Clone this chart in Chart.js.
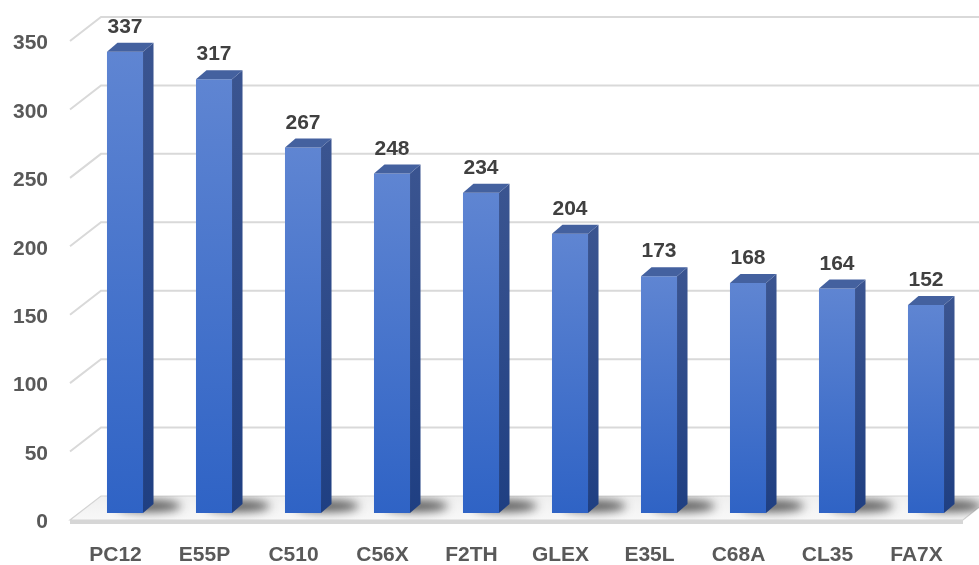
<!DOCTYPE html>
<html>
<head>
<meta charset="utf-8">
<script src="https://cdn.jsdelivr.net/npm/chart.js@4.4.1/dist/chart.umd.min.js"></script>
<style>
  html, body { margin: 0; padding: 0; background: #fff; }
  #wrap { width: 979px; height: 565px; position: relative; }
</style>
</head>
<body>
<div id="wrap"><canvas id="c"></canvas></div>
<script>
const categories = ['PC12', 'E55P', 'C510', 'C56X', 'F2TH', 'GLEX', 'E35L', 'C68A', 'CL35', 'FA7X'];
const values = [337, 317, 267, 248, 234, 204, 173, 168, 164, 152];
const yTicks = [0, 50, 100, 150, 200, 250, 300, 350];

const DX = 10.5, DY = -9;      // bar depth
const WALL_DY = -17, WALL_DX = 20.5, FRONT_DY = 7, FRONT_DX = -10.5;

// front face gradient, per bar
function frontFill(ctx) {
  const chart = ctx.chart;
  const ys = chart.scales.y;
  if (!ys || ctx.parsed == null) return '#3f6fcb';
  const top = ys.getPixelForValue(ctx.parsed.y);
  const bot = ys.getPixelForValue(0);
  if (!isFinite(top) || !isFinite(bot)) return '#3f6fcb';
  const g = chart.ctx.createLinearGradient(0, top, 0, bot);
  g.addColorStop(0, '#5f85d2');
  g.addColorStop(1, '#2f63c5');
  return g;
}

const depth3d = {
  id: 'depth3d',
  beforeDatasetsDraw(chart) {
    const { ctx, scales: { x, y } } = chart;
    const left = x.left;
    ctx.save();
    // back wall grid + left diagonals
    ctx.strokeStyle = '#d9d9d9';
    ctx.lineWidth = 2;
    yTicks.forEach(v => {
      if (v === 0) return;
      const yf = y.getPixelForValue(v);
      ctx.beginPath();
      ctx.moveTo(left + FRONT_DX, yf + FRONT_DY);
      ctx.lineTo(left + WALL_DX, yf + WALL_DY);
      ctx.lineTo(chart.width, yf + WALL_DY);
      ctx.stroke();
    });

    // floor
    const y0 = y.getPixelForValue(0);
    const bx0 = left + WALL_DX, by = y0 + WALL_DY;
    const fx0 = left + FRONT_DX, fy = y0 + FRONT_DY;
    const fx1 = x.right - 7.5, bx1 = fx1 + (bx0 - fx0);
    const floor = new Path2D();
    floor.moveTo(bx0, by);
    floor.lineTo(bx1, by);
    floor.lineTo(fx1, fy);
    floor.lineTo(fx0, fy);
    floor.closePath();
    const fg = ctx.createLinearGradient(0, by, 0, fy);
    fg.addColorStop(0, '#efefef');
    fg.addColorStop(1, '#f8f8f8');
    ctx.fillStyle = fg;
    ctx.fill(floor);
    ctx.strokeStyle = '#d4d4d4';
    ctx.lineWidth = 1.2;
    ctx.stroke(floor);
    ctx.fillStyle = '#d6d6d6';
    ctx.fillRect(fx0, fy, fx1 - fx0, 4);

    // shadows under the bars
    ctx.save();
    ctx.clip(floor);
    ctx.filter = 'blur(5px)';
    ctx.fillStyle = 'rgba(30,30,30,0.7)';
    chart.getDatasetMeta(0).data.forEach(bar => {
      const p = bar.getProps(['x', 'width', 'base'], true);
      const r = p.x + p.width / 2;
      ctx.beginPath();
      ctx.ellipse(r + 6, p.base - 7, 32, 6, 0, 0, Math.PI * 2);
      ctx.fill();
    });
    ctx.restore();
    ctx.restore();
  },
  afterDatasetsDraw(chart) {
    const { ctx } = chart;
    ctx.save();
    chart.getDatasetMeta(0).data.forEach((bar, i) => {
      const p = bar.getProps(['x', 'y', 'base', 'width'], true);
      const l = p.x - p.width / 2, r = p.x + p.width / 2;
      // side face
      const sg = ctx.createLinearGradient(0, p.y, 0, p.base);
      sg.addColorStop(0, '#3a5490');
      sg.addColorStop(1, '#1f3f82');
      ctx.fillStyle = sg;
      ctx.beginPath();
      ctx.moveTo(r, p.y);
      ctx.lineTo(r + DX, p.y + DY);
      ctx.lineTo(r + DX, p.base + DY);
      ctx.lineTo(r, p.base);
      ctx.closePath();
      ctx.fill();
      // top face
      ctx.fillStyle = '#44619f';
      ctx.beginPath();
      ctx.moveTo(l, p.y);
      ctx.lineTo(l + DX, p.y + DY);
      ctx.lineTo(r + DX, p.y + DY);
      ctx.lineTo(r, p.y);
      ctx.closePath();
      ctx.fill();
      // value label
      ctx.fillStyle = '#404040';
      ctx.font = 'bold 21px "Liberation Sans", Arial, sans-serif';
      ctx.textAlign = 'center';
      ctx.textBaseline = 'alphabetic';
      ctx.fillText(String(values[i]), p.x, p.y - 19);
    });
    ctx.restore();
  }
};

new Chart(document.getElementById('c'), {
  type: 'bar',
  data: {
    labels: categories,
    datasets: [{
      data: values,
      backgroundColor: frontFill,
      borderWidth: 0,
      barPercentage: 0.405,
      categoryPercentage: 1
    }]
  },
  options: {
    responsive: true,
    maintainAspectRatio: false,
    animation: false,
    layout: { padding: { top: 34, right: 8.5, left: 0, bottom: 0 } },
    plugins: { legend: { display: false }, tooltip: { enabled: false } },
    scales: {
      x: {
        grid: { display: false, drawTicks: false, tickLength: 0 },
        border: { display: false },
        ticks: {
          color: '#595959',
          font: { family: '"Liberation Sans", Arial, sans-serif', size: 21, weight: 'bold' },
          labelOffset: -9.5,
          padding: 30,
          maxRotation: 0,
          autoSkip: false
        },
        afterFit(s) { s.height = 52; s.paddingLeft = 0; s.paddingRight = 0; }
      },
      y: {
        min: 0,
        max: 350,
        grid: { display: false, drawTicks: false, tickLength: 0 },
        border: { display: false },
        ticks: {
          stepSize: 50,
          color: '#595959',
          font: { family: '"Liberation Sans", Arial, sans-serif', size: 21, weight: 'bold' },
          padding: 32.5,
          labelOffset: 9.5
        },
        afterFit(s) { s.width = 80.5; s.paddingTop = 0; s.paddingBottom = 0; }
      }
    }
  },
  plugins: [depth3d]
});
</script>
</body>
</html>
